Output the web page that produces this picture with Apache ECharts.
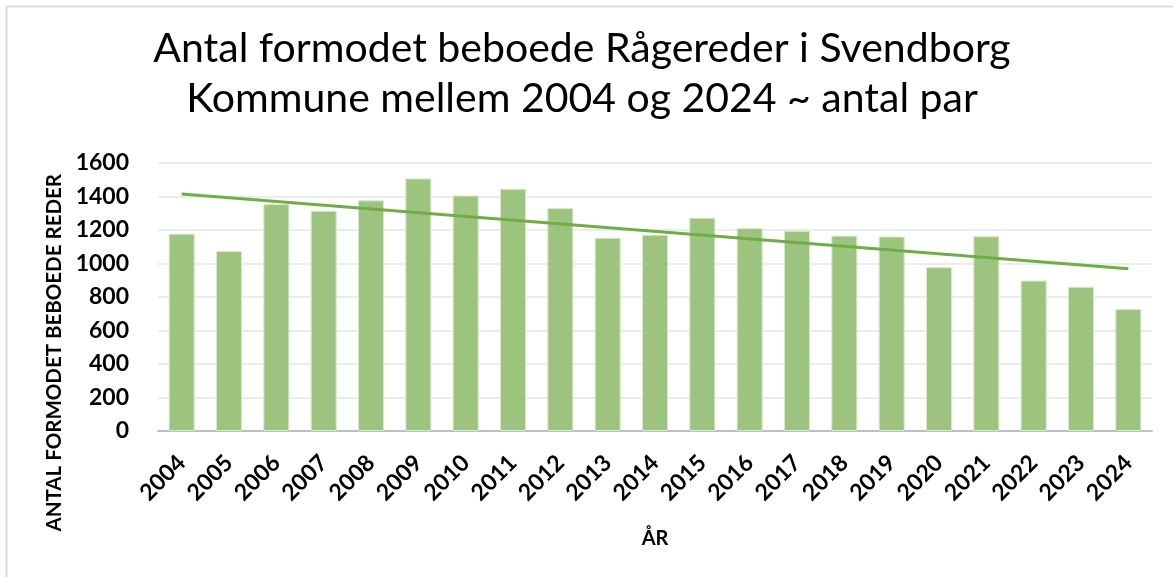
<!DOCTYPE html>
<html>
<head>
<meta charset="utf-8">
<title>Rågereder Svendborg</title>
<script src="https://cdn.jsdelivr.net/npm/echarts@6/dist/echarts.min.js"></script>
<style>
    html, body { margin: 0; padding: 0; background: #fff; }
    #chart { width: 1173px; height: 577px; }
</style>
</head>
<body>
<div id="chart"></div>
<script>
// data
var years = ['2004', '2005', '2006', '2007', '2008', '2009', '2010', '2011', '2012', '2013', '2014',
    '2015', '2016', '2017', '2018', '2019', '2020', '2021', '2022', '2023', '2024'];
var pairs = [1178, 1075, 1355, 1315, 1377, 1508, 1406, 1446, 1331, 1154, 1172,
    1273, 1211, 1195, 1166, 1161, 978, 1163, 898, 861, 729];
// linear trend line, only the two ends are read, the rest is drawn by connecting
var trend = [1415, null, null, null, null, null, null, null, null, null, null,
    null, null, null, null, null, null, null, null, null, 968];
var yTicks = [0, 200, 400, 600, 800, 1000, 1200, 1400, 1600];

var chart = echarts.init(document.getElementById('chart'));

var font = 'Lato, "Open Sans", sans-serif';

var option = {
    animation: false,
    backgroundColor: '#fff',
    textStyle: { fontFamily: font },
    title: {
        text: 'Antal formodet beboede Rågereder i Svendborg\nKommune mellem 2004 og 2024 ~ antal par',
        left: 577,
        top: 19,
        textAlign: 'center',
        textStyle: {
            fontFamily: font,
            fontSize: 41,
            fontWeight: 'normal',
            color: '#000',
            lineHeight: 50
        }
    },
    graphic: [
        {
            type: 'rect',
            shape: { x: 6.5, y: 6.5, width: 1200, height: 600 },
            style: { fill: 'none', stroke: '#d9d9d9', lineWidth: 2 },
            silent: true
        },
        {
            // y axis title, Excel puts it lower than the axis middle
            type: 'text',
            left: 44,
            top: 174,
            rotation: Math.PI / 2,
            style: {
                text: 'ANTAL FORMODET BEBOEDE REDER',
                font: 'bold 20.5px ' + font,
                fill: '#000'
            }
        }
    ],
    grid: {
        left: 158,
        right: 21,
        top: 163,
        bottom: 146
    },
    xAxis: {
        type: 'category',
        data: years,
        name: 'ÅR',
        nameLocation: 'middle',
        nameGap: 98,
        nameTextStyle: { fontFamily: font, fontSize: 20, fontWeight: 'bold', color: '#000' },
        axisLine: { lineStyle: { color: '#bfbfbf', width: 2 } },
        axisTick: { show: false },
        axisLabel: {
            rotate: 45,
            interval: 0,
            margin: 28,
            fontFamily: font,
            fontSize: 23,
            fontWeight: 'bold',
            color: '#000'
        }
    },
    yAxis: {
        type: 'value',
        min: yTicks[0],
        max: yTicks[yTicks.length - 1],
        interval: 200,
        axisLine: { show: false },
        axisTick: { show: false },
        splitLine: { lineStyle: { color: '#ececec', width: 2 } },
        axisLabel: {
            margin: 29,
            fontFamily: font,
            fontSize: 23,
            fontWeight: 'bold',
            color: '#000',
            formatter: function (v) { return String(v); }
        }
    },
    series: [
        {
            name: 'Antal par',
            type: 'bar',
            data: pairs,
            barCategoryGap: '45%',
            itemStyle: {
                color: '#9dc47f',
                borderColor: '#d8e8cc',
                borderWidth: 1
            }
        },
        {
            name: 'Lineær tendens',
            type: 'line',
            data: trend,
            connectNulls: true,
            symbol: 'none',
            z: 5,
            lineStyle: { color: '#70ad47', width: 3 }
        }
    ]
};

chart.setOption(option);
window.addEventListener('resize', function () {
    chart.resize();
});
</script>
</body>
</html>
